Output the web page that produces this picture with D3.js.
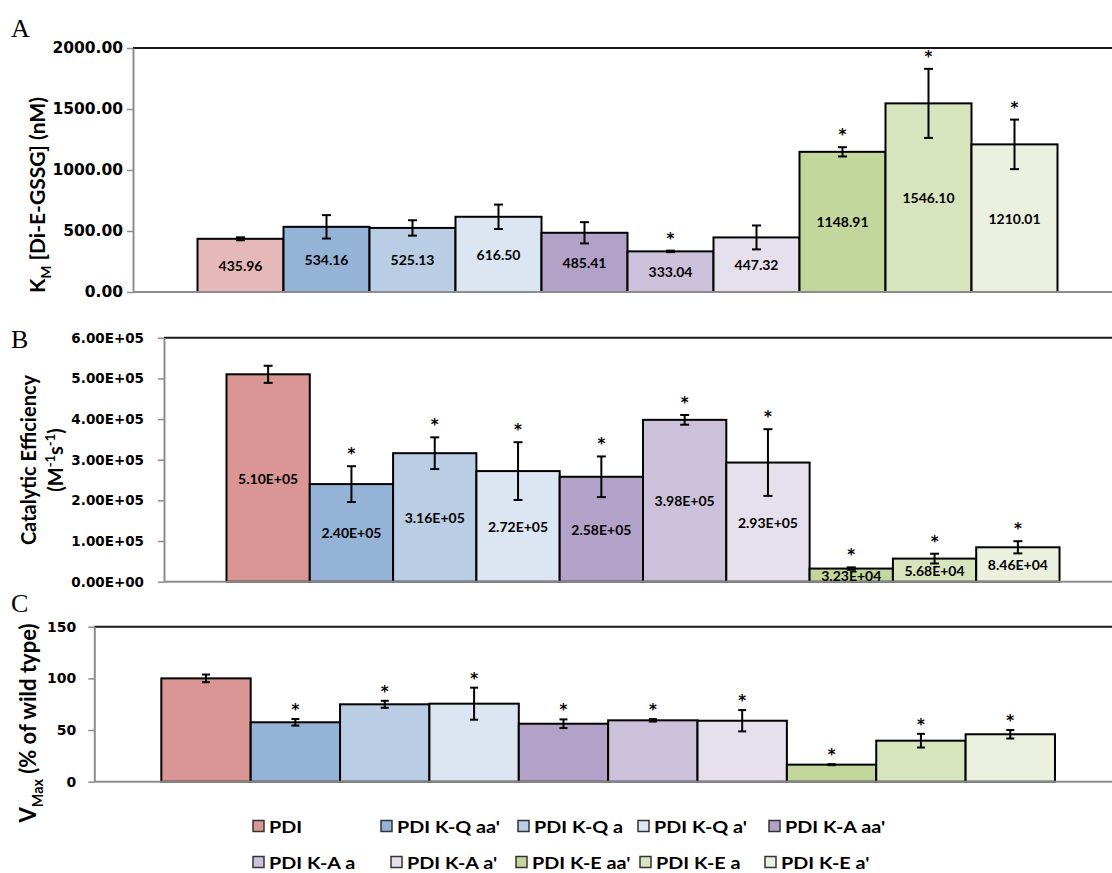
<!DOCTYPE html>
<html>
<head>
<meta charset="utf-8">
<script src="https://cdn.jsdelivr.net/npm/d3@7"></script>
<style>
  body { margin: 0; background: #fff; }
  svg { display: block; }
</style>
</head>
<body>
<svg id="chart" width="1112" height="873"></svg>
<script>
// Enzyme variants, in plotting order
const categories = ["PDI", "PDI K-Q aa'", "PDI K-Q a", "PDI K-Q a'", "PDI K-A aa'",
                    "PDI K-A a", "PDI K-A a'", "PDI K-E aa'", "PDI K-E a", "PDI K-E a'"];
const colors = ["#d99694", "#95b3d7", "#b9cde5", "#dce6f2", "#b3a2c7",
                "#ccc1da", "#e6e0ec", "#c3d69b", "#d7e4bd", "#ebf1de"];
const kmColors = ["#e6b9b8"].concat(colors.slice(1));

// A: K_M for Di-E-GSSG (nM)
const kmValues = [435.96, 534.16, 525.13, 616.50, 485.41, 333.04, 447.32, 1148.91, 1546.10, 1210.01];
const kmErrors = [12, 96, 63, 100, 87, 6, 98, 38, 283, 203];
const kmSignif = [false, false, false, false, false, true, false, true, true, true];
const kmTicks = [0, 500, 1000, 1500, 2000];

// B: catalytic efficiency (M^-1 s^-1)
const effValues = [5.10e5, 2.40e5, 3.16e5, 2.72e5, 2.58e5, 3.98e5, 2.93e5, 3.23e4, 5.68e4, 8.46e4];
const effErrors = [2.1e4, 4.4e4, 3.9e4, 7.1e4, 5.0e4, 1.2e4, 8.2e4, 3.0e3, 1.2e4, 1.5e4];
const effSignif = [false, true, true, true, true, true, true, true, true, true];
const effTicks = [0, 1e5, 2e5, 3e5, 4e5, 5e5, 6e5];

// C: Vmax (% of wild type)
const vmaxValues = [100, 57.5, 74.9, 75.5, 56.1, 59.4, 59.0, 16.5, 39.7, 45.9];
const vmaxErrors = [3.7, 3.2, 3.4, 15.5, 4.2, 1.2, 10.3, 0.5, 6.6, 4.1];
const vmaxSignif = [false, true, true, true, true, true, true, true, true, true];
const vmaxTicks = [0, 50, 100, 150];

// Excel-style scientific notation: 5.10E+05
function sci(v) {
  const parts = v.toExponential(2).split("e");
  const sign = parts[1][0];
  const digits = parts[1].slice(1).padStart(2, "0");
  return parts[0] + "E" + sign + digits;
}
const fixed2 = v => v.toFixed(2);

const svg = d3.select("#chart");
const W = 1112;
const plotRight = 1122;   // plot area runs slightly past the page edge
const LABEL_FONT = "Lato, 'Open Sans', sans-serif";
const TICK_FONT = "'DejaVu Sans', Verdana, sans-serif";

// title pieces: [text, kind] where kind 0 = normal, 1 = subscript, -1 = superscript
const panels = [
  { letter: "A", letterY: 37, values: kmValues, errors: kmErrors, signif: kmSignif,
    ticks: kmTicks, fill: kmColors, max: 2000, tickFmt: fixed2, valueFmt: fixed2,
    left: 133, top: 48, bottom: 292, tickPad: 4, tickFont: 15.5, capW: 9, starGap: 7,
    title: { x: 45, y: 195, size: 21, lineGap: 0,
             lines: [[["K", 0], ["M", 1], [" [Di-E-GSSG] (nM)", 0]]] } },
  { letter: "B", letterY: 348, values: effValues, errors: effErrors, signif: effSignif,
    ticks: effTicks, fill: colors, max: 6e5, tickFmt: sci, valueFmt: sci,
    left: 164, top: 337.7, bottom: 581.7, tickPad: 14, tickFont: 13.5, capW: 9, starGap: 7,
    title: { x: 36, y: 460, size: 20, lineGap: 27,
             lines: [[["Catalytic Efficiency", 0]],
                     [["(M", 0], ["-1", -1], ["s", 0], ["-1", -1], [")", 0]]] } },
  { letter: "C", letterY: 612, values: vmaxValues, errors: vmaxErrors, signif: vmaxSignif,
    ticks: vmaxTicks, fill: colors, max: 150, tickFmt: d3.format("d"), valueFmt: null,
    left: 94.3, top: 626.7, bottom: 781.7, tickPad: 12, tickFont: 14, capW: 8, starGap: 4,
    title: { x: 36, y: 723, size: 22, lineGap: 0,
             lines: [[["V", 0], ["Max", 1], [" (% of wild type)", 0]]] } }
];

panels.forEach(p => {
  const g = svg.append("g");
  const x = d3.scaleBand().domain(categories).range([p.left, plotRight])
    .paddingInner(0).paddingOuter(0.75);
  const y = d3.scaleLinear().domain([0, p.max]).range([p.bottom, p.top]);
  const rows = p.values.map((v, i) => ({ cat: categories[i], v, e: p.errors[i], sig: p.signif[i], fill: p.fill[i] }));
  const cx = d => x(d.cat) + x.bandwidth() / 2;

  // panel letter
  svg.append("text").attr("x", 11).attr("y", p.letterY)
    .attr("font-family", "'Liberation Serif', 'Times New Roman', serif")
    .attr("font-size", 26).text(p.letter);

  // top frame line
  g.append("line").attr("x1", p.left).attr("x2", W).attr("y1", p.top).attr("y2", p.top)
    .attr("stroke", "#1a1a1a").attr("stroke-width", 2);

  // value axis
  const axis = g.append("g").attr("transform", `translate(${p.left},0)`)
    .call(d3.axisLeft(y).tickValues(p.ticks).tickFormat(p.tickFmt)
      .tickSize(6).tickSizeOuter(0).tickPadding(p.tickPad));
  axis.select(".domain").attr("stroke", "#8c8c8c").attr("stroke-width", 2);
  axis.selectAll(".tick line").attr("stroke", "#8c8c8c").attr("stroke-width", 1.5);
  axis.selectAll(".tick text").attr("font-family", TICK_FONT).attr("font-weight", "bold")
    .attr("font-size", p.tickFont).attr("fill", "#000");

  // bars
  g.selectAll("rect.bar").data(rows).join("rect").attr("class", "bar")
    .attr("x", d => x(d.cat))
    .attr("width", x.bandwidth())
    .attr("y", d => y(d.v))
    .attr("height", d => y(0) - y(d.v))
    .attr("fill", d => d.fill)
    .attr("stroke", "#000").attr("stroke-width", 2);

  // category axis line
  g.append("line").attr("x1", p.left).attr("x2", W).attr("y1", p.bottom).attr("y2", p.bottom)
    .attr("stroke", "#8c8c8c").attr("stroke-width", 2);

  // error bars
  const err = g.selectAll("g.err").data(rows).join("g").attr("class", "err")
    .attr("stroke", "#000").attr("stroke-width", 2);
  err.each(function (d) {
    const c = cx(d);
    const hi = y(d.v + d.e), lo = y(d.v - d.e);
    const e = d3.select(this);
    e.append("line").attr("x1", c).attr("x2", c).attr("y1", hi).attr("y2", lo);
    e.append("line").attr("x1", c - p.capW / 2).attr("x2", c + p.capW / 2).attr("y1", hi).attr("y2", hi);
    e.append("line").attr("x1", c - p.capW / 2).attr("x2", c + p.capW / 2).attr("y1", lo).attr("y2", lo);
  });

  // significance asterisks
  g.selectAll("text.star").data(rows.filter(d => d.sig)).join("text").attr("class", "star")
    .attr("x", cx)
    .attr("y", d => y(d.v + d.e) - p.starGap)
    .attr("text-anchor", "middle")
    .attr("font-family", TICK_FONT).attr("font-weight", "bold").attr("font-size", 15)
    .attr("fill", "#000")
    .text("*");

  // value labels centred in each bar
  if (p.valueFmt) {
    g.selectAll("text.val").data(rows).join("text").attr("class", "val")
      .attr("x", cx)
      .attr("y", d => (y(d.v) + y(0)) / 2)
      .attr("text-anchor", "middle").attr("dominant-baseline", "central")
      .attr("font-family", LABEL_FONT).attr("font-weight", "bold").attr("font-size", 14)
      .attr("fill", "#000")
      .text(d => p.valueFmt(d.v));
  }

  // rotated axis title; later lines sit further right
  const t = p.title;
  const tg = svg.append("g").attr("transform", `translate(${t.x},${t.y}) rotate(-90)`);
  t.lines.forEach((line, li) => {
    const txt = tg.append("text").attr("x", 0).attr("y", li * t.lineGap)
      .attr("text-anchor", "middle")
      .attr("font-family", LABEL_FONT).attr("font-weight", "bold").attr("font-size", t.size)
      .attr("fill", "#000");
    let shift = 0;
    line.forEach(([s, kind]) => {
      const ts = txt.append("tspan").text(s);
      const target = kind === 1 ? t.size * 0.3 : kind === -1 ? -t.size * 0.4 : 0;
      ts.attr("dy", target - shift);
      if (kind !== 0) ts.attr("font-size", t.size * 0.65);
      shift = target;
    });
  });
});

// legend (text widened slightly, like the chart's other labels)
const legendCols = [[253, 381, 518, 638, 769], [253, 391, 516, 640, 765]];
const legendY = [826, 862];
const lg = svg.append("g");
categories.forEach((c, i) => {
  const row = Math.floor(i / 5), col = i % 5;
  const lx = legendCols[row][col], ly = legendY[row];
  lg.append("rect").attr("x", lx).attr("y", ly - 5.5).attr("width", 11).attr("height", 11)
    .attr("fill", colors[i]).attr("stroke", "#333").attr("stroke-width", 1.5);
  lg.append("g").attr("transform", `translate(${lx + 16},${ly}) scale(1.13,1)`)
    .append("text").attr("x", 0).attr("y", 0).attr("dominant-baseline", "central")
    .attr("font-family", LABEL_FONT).attr("font-weight", "bold").attr("font-size", 17.5)
    .attr("fill", "#000")
    .text(c);
});
</script>
</body>
</html>
